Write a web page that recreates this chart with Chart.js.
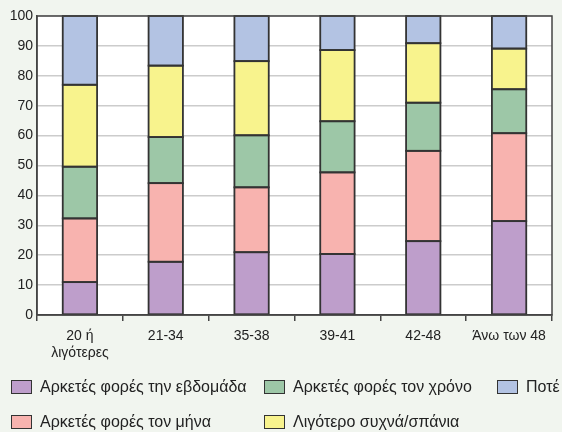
<!DOCTYPE html>
<html>
<head>
<meta charset="utf-8">
<script src="https://cdn.jsdelivr.net/npm/chart.js@4/dist/chart.umd.min.js"></script>
<style>
  html, body { margin: 0; padding: 0; background: #f1f5ef; }
  #wrap { position: relative; width: 562px; height: 432px; overflow: hidden; }
  #chart { position: absolute; left: 0; top: 0; }
  .item { position: absolute; display: flex; align-items: center; white-space: nowrap;
          font-family: "Liberation Sans", Arial, sans-serif; font-size: 16px; color: #222; }
  .box { width: 19px; height: 12px; border: 1px solid #333; margin-right: 8px; }
</style>
</head>
<body>
<div id="wrap">
  <canvas id="chart" width="562" height="432"></canvas>
  <div id="legend"></div>
</div>
<script>
// age groups
const categories = [["20 ή", "λιγότερες"], "21-34", "35-38", "39-41", "42-48", "Άνω των 48"];
const seriesNames = [
    "Αρκετές φορές την εβδομάδα",
    "Αρκετές φορές τον μήνα",
    "Αρκετές φορές τον χρόνο",
    "Λιγότερο συχνά/σπάνια",
    "Ποτέ"
];
const weekly  = [11, 17.8, 21, 20.4, 24.7, 31.4];
const monthly = [21.3, 26.3, 21.7, 27.3, 30.2, 29.4];
const yearly  = [17.3, 15.4, 17.4, 17.1, 16.1, 14.7];
const rarely  = [27.4, 23.9, 24.8, 23.8, 19.9, 13.6];
const never   = [23, 16.6, 15.1, 11.4, 9.1, 10.9];
const yTicks = [0, 10, 20, 30, 40, 50, 60, 70, 80, 90, 100];

const colors = ["#be9ecb", "#f8b3af", "#9dc7a7", "#f8f38d", "#b3c3e3"];
const values = [weekly, monthly, yearly, rarely, never];

const datasets = values.map((v, i) => ({
    label: seriesNames[i],
    data: v,
    backgroundColor: colors[i],
    borderWidth: 0,
    barPercentage: 1,
    categoryPercentage: 0.4
}));

// outline every segment once, centred on its edges
const outlines = {
    id: "outlines",
    afterDatasetsDraw(chart) {
        const ctx = chart.ctx;
        ctx.save();
        ctx.strokeStyle = "#333";
        ctx.lineWidth = 1.8;
        chart.data.datasets.forEach((ds, i) => {
            chart.getDatasetMeta(i).data.forEach(bar => {
                const top = Math.min(bar.y, bar.base), h = Math.abs(bar.base - bar.y);
                ctx.strokeRect(bar.x - bar.width / 2, top, bar.width, h);
            });
        });
        ctx.restore();
    }
};

const frame = {
    id: "frame",
    afterDraw(chart) {
        const { ctx, chartArea: a } = chart;
        ctx.save();
        ctx.strokeStyle = "#444";
        ctx.lineWidth = 1.5;
        ctx.strokeRect(a.left, a.top, a.right - a.left, a.bottom - a.top);
        ctx.restore();
    }
};

const whiteArea = {
    id: "whiteArea",
    beforeDraw(chart) {
        const { ctx, chartArea: a } = chart;
        ctx.save();
        ctx.fillStyle = "#ffffff";
        ctx.fillRect(a.left, a.top, a.right - a.left, a.bottom - a.top);
        ctx.restore();
    }
};

const font = { family: "'Liberation Sans', Arial, sans-serif", size: 14 };

new Chart(document.getElementById("chart"), {
    type: "bar",
    data: { labels: categories, datasets },
    options: {
        responsive: false,
        animation: false,
        layout: { padding: { top: 16, right: 10, left: 0, bottom: 0 } },
        plugins: { legend: { display: false }, tooltip: { enabled: false } },
        scales: {
            x: {
                stacked: true,
                afterFit: (s) => { s.height = 117; },
                border: { color: "#444", width: 1.5 },
                grid: { offset: true, drawOnChartArea: false, drawTicks: true, tickLength: 6, color: "#444", lineWidth: 1.5 },
                ticks: { color: "#222", font, padding: 7 }
            },
            y: {
                stacked: true,
                min: 0,
                max: 100,
                afterFit: (s) => { s.width = 37; },
                afterBuildTicks: (s) => { s.ticks = yTicks.map(v => ({ value: v })); },
                border: { color: "#444", width: 1.5 },
                grid: { color: "#cccccc", lineWidth: 1.5, drawTicks: false },
                ticks: { color: "#222", font, padding: 4 }
            }
        }
    },
    plugins: [whiteArea, outlines, frame]
});

// legend laid out column by column, two rows
const legend = document.getElementById("legend");
const colLeft = [11, 264, 497];
const rowTop = [378, 413];
seriesNames.forEach((name, i) => {
    const col = Math.floor(i / 2), row = i % 2;
    const div = document.createElement("div");
    div.className = "item";
    div.style.left = colLeft[col] + "px";
    div.style.top = rowTop[row] + "px";
    div.innerHTML = `<span class="box" style="background:${colors[i]}"></span><span>${name}</span>`;
    legend.appendChild(div);
});
</script>
</body>
</html>
